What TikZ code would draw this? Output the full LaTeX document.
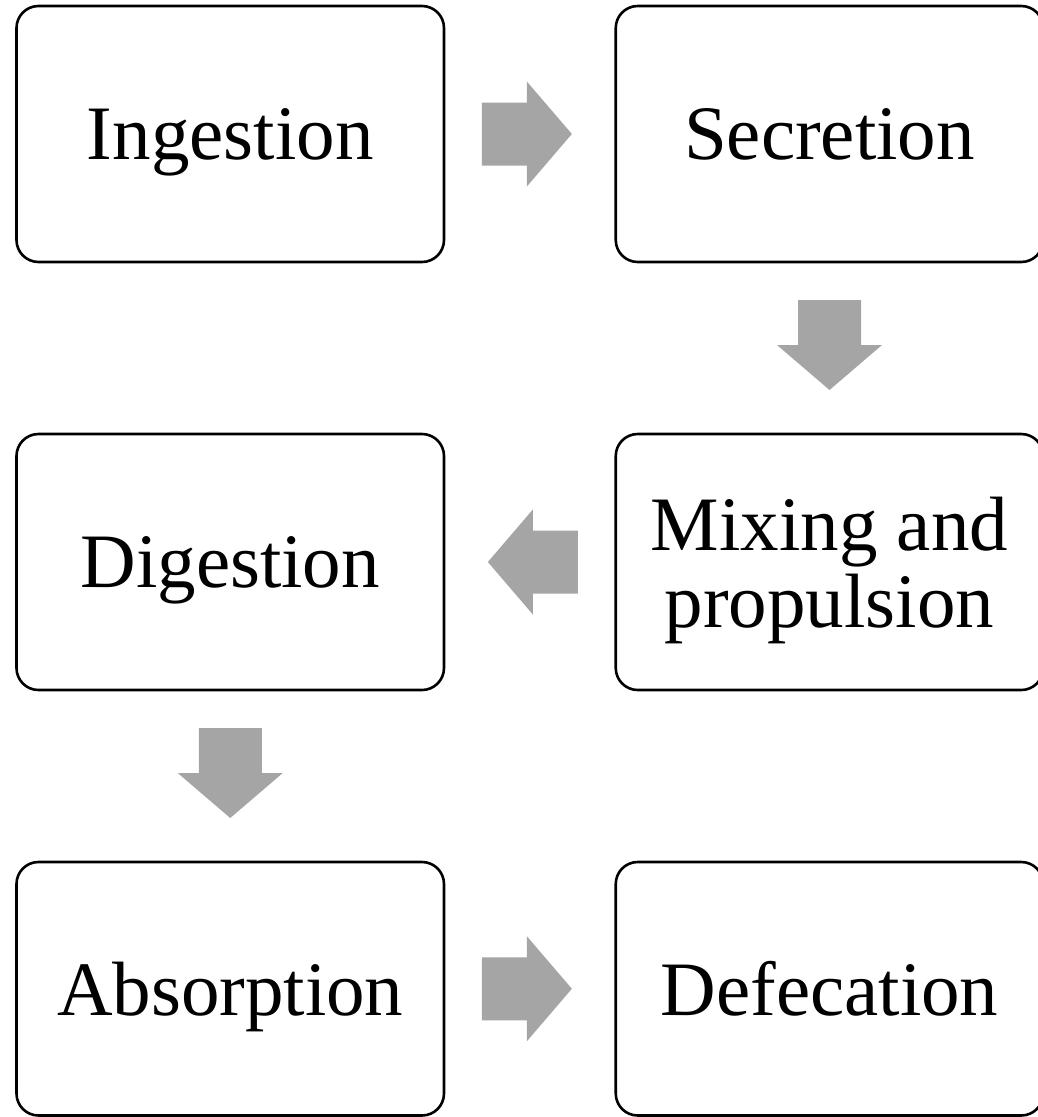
\documentclass[tikz,border=0pt]{standalone}
\usepackage{fontspec}
\setmainfont{Liberation Serif}
\usetikzlibrary{calc}
\definecolor{arrowgray}{HTML}{A5A5A5}
\tikzset{
  stepbox/.style={draw=black, line width=2.6pt, rounded corners=22pt,
    minimum width=427.5pt, minimum height=256pt, inner sep=0pt,
    text depth=0pt, align=center,
    font=\fontsize{77}{77}\selectfont},
  flowarrow/.style={fill=arrowgray, draw=none}
}
\newcommand\blockarrow[3]{%
  \fill[flowarrow, shift={($(#1)!0.5!(#2)$)}, rotate=#3]
    (-48,-31.5) -- (-3,-31.5) -- (-3,-52.5) -- (42,0) -- (-3,52.5) -- (-3,31.5) -- (-48,31.5) -- cycle;}
\begin{document}
\begin{tikzpicture}[x=1pt,y=-1pt]
\path[use as bounding box, clip] (0,0) rectangle (1038,1117);
\node[stepbox] (ing) at (230.25,134) {Ingestion};
\node[stepbox] (sec) at (829.5,134) {Secretion};
\node[stepbox] (mix) at (829.5,562) {Mixing and\\propulsion};
\node[stepbox] (dig) at (230.25,562) {Digestion};
\node[stepbox, minimum height=253.5pt] (abs) at (230.25,988.75) {Absorption};
\node[stepbox, minimum height=253.5pt] (def) at (829.5,988.75) {Defecation};
\blockarrow{ing.east}{sec.west}{0}
\blockarrow{sec.south}{mix.north}{-90}
\blockarrow{mix.west}{dig.east}{180}
\blockarrow{dig.south}{abs.north}{-90}
\blockarrow{abs.east}{def.west}{0}
\end{tikzpicture}
\end{document}
